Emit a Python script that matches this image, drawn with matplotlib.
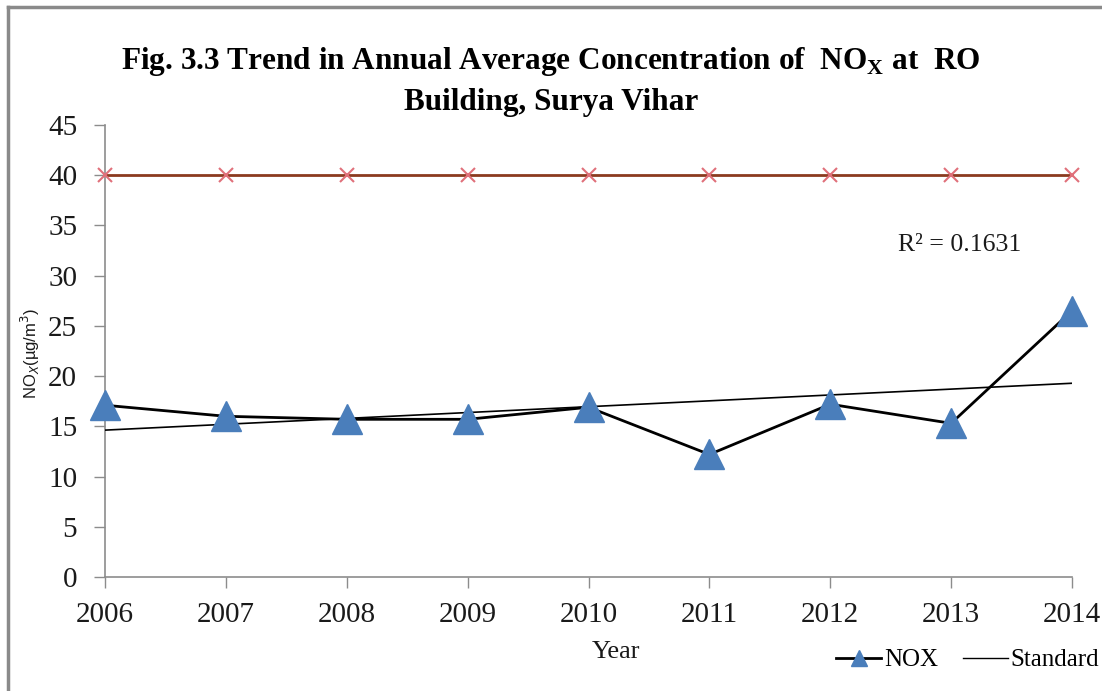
import numpy as np
import matplotlib
matplotlib.use("Agg")
import matplotlib.pyplot as plt
from matplotlib.lines import Line2D

years = [2006, 2007, 2008, 2009, 2010, 2011, 2012, 2013, 2014]
nox = [17.1, 16.0, 15.7, 15.7, 16.9, 12.2, 17.2, 15.3, 26.5]
standard = [40, 40, 40, 40, 40, 40, 40, 40, 40]
y_ticks = [0, 5, 10, 15, 20, 25, 30, 35, 40, 45]

serif = "Liberation Serif"
W, H = 1102, 691

fig = plt.figure(figsize=(W / 100, H / 100), dpi=100)
ax = fig.add_axes([105 / W, 1 - 577 / H, (1072 - 105) / W, (577 - 125) / H])

# Outer frame: top and left edges
fig.add_artist(Line2D([8 / W, 1.0], [1 - 7 / H, 1 - 7 / H], transform=fig.transFigure,
                      color="#8a8a8a", linewidth=2.5))
fig.add_artist(Line2D([8 / W, 8 / W], [0, 1 - 7 / H], transform=fig.transFigure,
                      color="#8a8a8a", linewidth=2.5))

x = np.arange(len(years))

# Standard limit line
ax.plot(x, standard, color="#8b3a1f", linewidth=2, zorder=2, clip_on=False)
ax.plot(x, standard, linestyle="none", marker="x", markersize=10,
        markeredgecolor="#e0707a", markeredgewidth=1.5, zorder=3, clip_on=False)

# Linear trend of the NOx series
coef = np.polyfit(x, nox, 1)
trend = np.polyval(coef, x)
ax.plot(x, trend, color="black", linewidth=1.2, zorder=3)

# NOx annual averages
ax.plot(x, nox, color="black", linewidth=2, zorder=4, clip_on=False)
ax.plot(x, nox, linestyle="none", marker="^", markersize=21,
        markerfacecolor="#4a7ebb", markeredgecolor="#4a7ebb", zorder=5, clip_on=False)

ax.set_xlim(0, len(years) - 1)
ax.set_ylim(0, 45)
ax.set_yticks(y_ticks)
ax.set_xticks(x)
ax.set_xticklabels([str(y) for y in years])

for s in ["top", "right"]:
    ax.spines[s].set_visible(False)
for s in ["left", "bottom"]:
    ax.spines[s].set_color("#8c8c8c")
    ax.spines[s].set_linewidth(1.2)

ax.tick_params(axis="both", direction="out", colors="#8c8c8c", length=8, width=1)
ax.tick_params(axis="y", labelsize=21, pad=12, labelcolor="#1a1a1a")
ax.tick_params(axis="x", labelsize=21, pad=10, labelcolor="#1a1a1a")
for lab in ax.get_xticklabels() + ax.get_yticklabels():
    lab.set_fontfamily(serif)

fig.text(616 / W, 1 - 652 / H, "Year", family=serif, fontsize=19,
         ha="center", va="center", color="#1a1a1a")
fig.text(30 / W, 1 - 353 / H, "NO$_X$(µg/m$^3$)", family="Liberation Sans",
         fontsize=12, rotation=90, ha="center", va="center", color="#1a1a1a")

fig.text(0.5, 1 - 69 / H,
         "Fig. 3.3 Trend in Annual Average Concentration of  NO$_\\mathregular{X}$ at  RO",
         family=serif, fontweight="bold", fontsize=22.5, ha="center", va="baseline")
fig.text(0.5, 1 - 110 / H, "Building, Surya Vihar",
         family=serif, fontweight="bold", fontsize=22.5, ha="center", va="baseline")

ax.text(6.56, 33.1, "R² = 0.1631", family=serif, fontsize=18.5, ha="left", va="center",
        color="#1a1a1a")

handles = [
    Line2D([], [], color="black", linewidth=2, marker="^", markersize=12,
           markerfacecolor="#4a7ebb", markeredgecolor="#4a7ebb"),
    Line2D([], [], color="black", linewidth=1),
]
fig.legend(handles, ["NOX", "Standard"], loc="center right",
           bbox_to_anchor=(1099 / W, 1 - 660 / H), ncol=2, frameon=False,
           prop={"family": serif, "size": 18}, handlelength=1.8, handletextpad=0.1,
           columnspacing=1.0, borderpad=0, borderaxespad=0)

fig.savefig("out.png", dpi=100)
